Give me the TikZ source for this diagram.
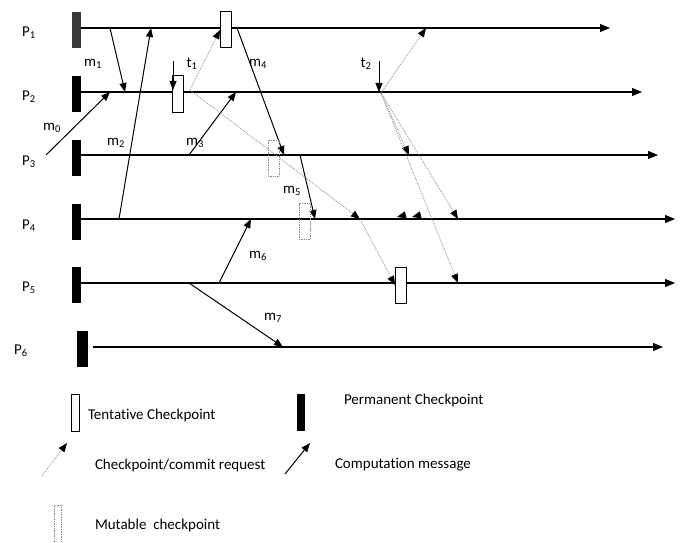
\documentclass[tikz,border=0pt]{standalone}
\usepackage{fontspec}
\setmainfont{Carlito}[Ligatures=NoCommon]
\usepackage{tikz}
\usetikzlibrary{arrows.meta}
\definecolor{cpdark}{HTML}{3A3A3A}
\definecolor{reqgray}{HTML}{8C8C8C}

\begin{document}
\begin{tikzpicture}[
        x=1pt, y=-1pt,
        font=\fontsize{15}{17}\selectfont,
        every node/.style={inner sep=0pt, outer sep=0pt},
        perm/.style={rectangle, fill=black, minimum width=9pt, minimum height=36pt},
        tent/.style={rectangle, draw=black, fill=white, line width=1pt,
                     minimum width=11pt, minimum height=36pt},
        mut/.style={rectangle, draw=reqgray, densely dotted, line width=0.7pt,
                    minimum width=11pt, minimum height=36pt},
        plbl/.style={anchor=center},
        mlbl/.style={anchor=center},
        leg/.style={anchor=west},
        proc/.style={line width=1.1pt, -{Triangle[length=10pt, width=8pt]}},
        msg/.style={line width=1pt, -{Triangle[length=9pt, width=7pt]}},
        req/.style={reqgray, densely dotted, line width=0.8pt,
                    -{Triangle[length=9pt, width=7pt, black]}}
    ]
        \useasboundingbox (0,0) rectangle (683,543);

        \node[plbl] (lp1) at (29,33)  {P\textsubscript{1}};
        \node[plbl] (lp2) at (29,97)  {P\textsubscript{2}};
        \node[plbl] (lp3) at (29,162) {P\textsubscript{3}};
        \node[plbl] (lp4) at (29,226) {P\textsubscript{4}};
        \node[plbl] (lp5) at (29,288) {P\textsubscript{5}};
        \node[plbl] (lp6) at (21,351) {P\textsubscript{6}};

        \node[perm, fill=cpdark] (cp1) at (76.5,30)  {};
        \node[perm] (cp2) at (76.5,94)  {};
        \node[perm] (cp3) at (76.5,158) {};
        \node[perm] (cp4) at (76.5,221.5) {};
        \node[perm] (cp5) at (76.5,285) {};
        \node[perm, minimum width=11pt] (cp6) at (82.5,348.5) {};

        \coordinate (end1) at (610,28);
        \coordinate (end2) at (642,92);
        \coordinate (end3) at (658,155);
        \coordinate (end4) at (675,219);
        \coordinate (end5) at (675,283);
        \coordinate (end6) at (663,347);

        \draw[proc] (cp1.east |- end1) -- (end1);
        \draw[proc] (cp2.east |- end2) -- (end2);
        \draw[proc] (cp3.east |- end3) -- (end3);
        \draw[proc] (cp4.east |- end4) -- (end4);
        \draw[proc] (cp5.east |- end5) -- (end5);
        \draw[proc] (93,347) -- (end6);

        \coordinate (m0s) at (46,155);  \coordinate (m0e) at (110,92);
        \coordinate (m1s) at (110,28);  \coordinate (m1e) at (125,92);
        \coordinate (m2s) at (119,219); \coordinate (m2e) at (151,28);
        \coordinate (m3s) at (189,155); \coordinate (m3e) at (236,92);
        \coordinate (m4s) at (237,28);  \coordinate (m4e) at (284,155);
        \coordinate (m5s) at (300,155); \coordinate (m5e) at (315,219);
        \coordinate (m6s) at (219,283); \coordinate (m6e) at (251,219);
        \coordinate (m7s) at (189,283); \coordinate (m7e) at (283,347);

        \draw[msg] (m0s) -- (m0e);
        \draw[msg] (m1s) -- (m1e);
        \draw[msg] (m2s) -- (m2e);
        \draw[msg] (m3s) -- (m3e);
        \draw[msg] (m4s) -- (m4e);
        \draw[msg] (m5s) -- (m5e);
        \draw[msg] (m6s) -- (m6e);
        \draw[msg] (m7s) -- (m7e);

        \node[mlbl] (lm0) at (52,128)  {m\textsubscript{0}};
        \node[mlbl] (lm1) at (93,64)   {m\textsubscript{1}};
        \node[mlbl] (lm2) at (116,143) {m\textsubscript{2}};
        \node[mlbl] (lm3) at (195,143) {m\textsubscript{3}};
        \node[mlbl] (lm4) at (258,64)  {m\textsubscript{4}};
        \node[mlbl] (lm5) at (292,191) {m\textsubscript{5}};
        \node[mlbl] (lm6) at (258,256) {m\textsubscript{6}};
        \node[mlbl] (lm7) at (273,318) {m\textsubscript{7}};
        \node[mlbl] (lt1) at (192,64)  {t\textsubscript{1}};
        \node[mlbl] (lt2) at (366,64)  {t\textsubscript{2}};

        \node[tent] (tc1) at (225.5,30) {};
        \node[tent] (tc2) at (178,94)   {};
        \node[tent] (tc5) at (400.5,285) {};
        \node[mut]  (mc3) at (273.5,158) {};
        \node[mut]  (mc4) at (304.5,221.5) {};

        \coordinate (t1s) at (173,61);  \coordinate (t1e) at (173,90);
        \coordinate (t2s) at (379,61);  \coordinate (t2e) at (379,92);
        \draw[msg] (t1s) -- (t1e);
        \draw[msg] (t2s) -- (t2e);

        \coordinate (q1) at (190,90);
        \coordinate (q4) at (360,219);
        \coordinate (q2) at (381,93);
        \coordinate (r1) at (426,28);
        \coordinate (r3) at (409,155);
        \coordinate (r4) at (458,219);
        \coordinate (r5) at (458,283);
        \coordinate (h1) at (397,217);
        \coordinate (h2) at (412,217);

        \draw[req] (q1) -- (tc1.west);
        \draw[req] (q1) -- (q4);
        \draw[req] (q4) -- (tc5.west);
        \draw[req] (q2) -- (r1);
        \draw[req] (q2) -- (r3);
        \draw[req] (q2) -- (r4);
        \draw[req] (q2) -- (r5);
        \draw[req] (h1) ++(2,-0.5) -- (h1);
        \draw[req] (h2) ++(2,-0.5) -- (h2);

        \node[tent, minimum width=8pt, minimum height=37pt] (ltc) at (75,412.5) {};
        \node[leg] (ltt) at (88,415) {Tentative Checkpoint};
        \node[perm, minimum width=8pt, minimum height=37pt] (lpc) at (301,412.5) {};
        \node[leg] (lpt) at (344,400) {Permanent Checkpoint};

        \coordinate (lrs) at (42,476);  \coordinate (lre) at (67,443);
        \draw[req] (lrs) -- (lre);
        \node[leg] (lrt) at (95,465) {Checkpoint/commit request};
        \coordinate (lms) at (285,474); \coordinate (lme) at (310,443);
        \draw[msg] (lms) -- (lme);
        \node[leg] (lmt) at (335,465) {Computation message};

        \node[mut, minimum width=7pt, minimum height=38pt] (lmc) at (58,524) {};
        \node[leg] (lmx) at (95,525) {Mutable~ checkpoint};
    \end{tikzpicture}
\end{document}
